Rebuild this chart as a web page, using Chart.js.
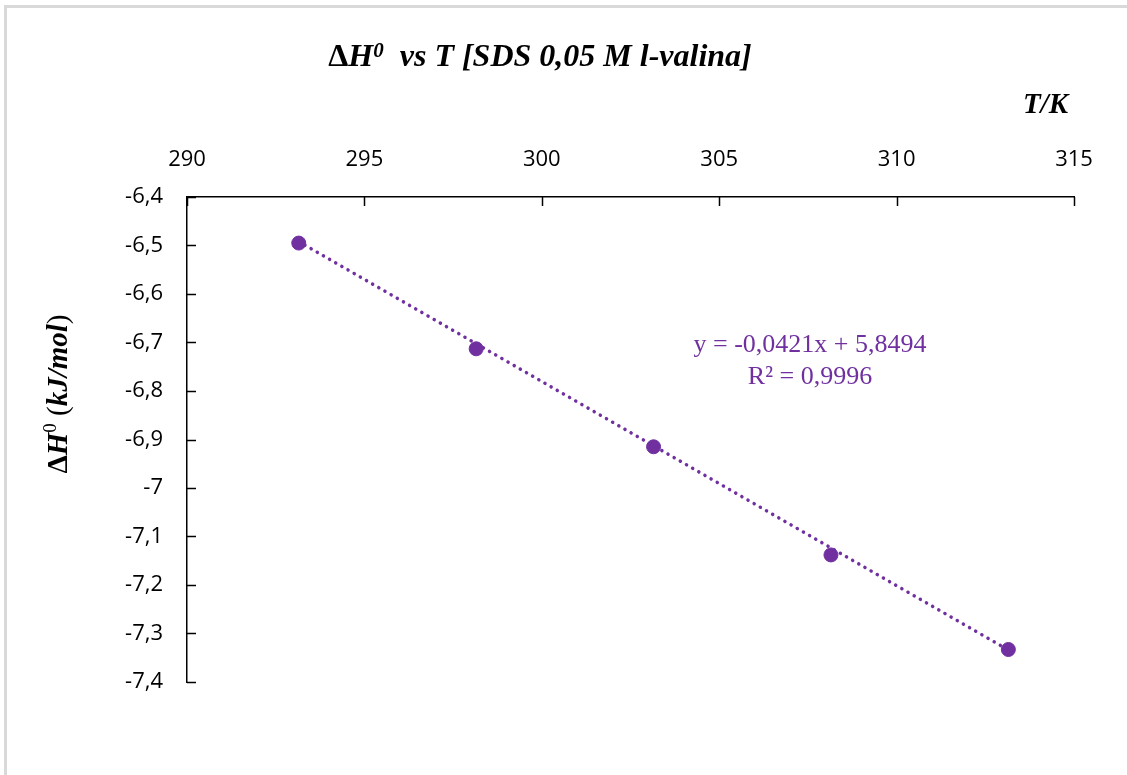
<!DOCTYPE html>
<html>
<head>
<meta charset="utf-8">
<title>ΔH0 vs T</title>
<script src="https://cdn.jsdelivr.net/npm/chart.js@4.4.1/dist/chart.umd.min.js"></script>
<style>
  html, body { margin: 0; padding: 0; background: #fff; }
  #frame {
    position: absolute; left: 4px; top: 5px; width: 1200px; height: 900px;
    border-top: 3px solid #d9d9d9; border-left: 3px solid #d9d9d9;
  }
  #wrap { position: absolute; left: 0; top: 0; width: 1127px; height: 775px; }
</style>
</head>
<body>
<div id="frame"></div>
<div id="wrap"><canvas id="chartEntalpia" width="1127" height="775"></canvas></div>
<script>
// ================================================
// Data
// ================================================
const suhuK = [293.15, 298.15, 303.15, 308.15, 313.15];
const deltaH = [-6.495, -6.713, -6.915, -7.138, -7.333];

// trendline ends
const trendX = [293.15, 313.15];
const trendY = [-6.492, -7.334];

const xTicks = [290, 295, 300, 305, 310, 315];
const yTicks = [-6.4, -6.5, -6.6, -6.7, -6.8, -6.9, -7, -7.1, -7.2, -7.3, -7.4];
const yTickLabels = ['-6,4', '-6,5', '-6,6', '-6,7', '-6,8', '-6,9', '-7', '-7,1', '-7,2', '-7,3', '-7,4'];

const trendText = ['y = -0,0421x + 5,8494', 'R² = 0,9996'];

const ungu = '#7030A0';
const tickFont = { family: 'Open Sans', size: 22 };
const serif = '"Liberation Serif", "Times New Roman", serif';

// ================================================
// Helpers
// ================================================

// draw a row of text pieces with different fonts
function drawRuns(ctx, runs, x, y) {
  let total = 0;
  runs.forEach(r => { ctx.font = r.font; total += ctx.measureText(r.text).width; });
  let cx = x - total / 2;
  runs.forEach(r => {
    ctx.font = r.font;
    ctx.fillText(r.text, cx, y + (r.dy || 0));
    cx += ctx.measureText(r.text).width;
  });
}

// inward tick marks + extra labels
const decorPlugin = {
  id: 'decor',
  afterDraw(chart) {
    const ctx = chart.ctx;
    const xs = chart.scales.x;
    const ys = chart.scales.y;
    const area = chart.chartArea;

    ctx.save();
    ctx.strokeStyle = '#000';
    ctx.lineWidth = 1.5;
    ctx.beginPath();
    xTicks.forEach(v => {
      const px = Math.round(xs.getPixelForValue(v)) + 0.5;
      ctx.moveTo(px, area.top);
      ctx.lineTo(px, area.top + 9);
    });
    yTicks.forEach(v => {
      const py = Math.round(ys.getPixelForValue(v)) + 0.5;
      ctx.moveTo(area.left, py);
      ctx.lineTo(area.left + 9, py);
    });
    ctx.stroke();

    // title
    ctx.fillStyle = '#000';
    ctx.textBaseline = 'alphabetic';
    ctx.textAlign = 'left';
    drawRuns(ctx, [
      { text: 'Δ', font: 'bold 32px ' + serif },
      { text: 'H', font: 'italic bold 32px ' + serif },
      { text: '0', font: 'italic bold 21px ' + serif, dy: -9 },
      { text: '  vs T [SDS 0,05 M l-valina]', font: 'italic bold 32px ' + serif }
    ], 540, 66);

    // x axis title
    ctx.font = 'italic bold 29px ' + serif;
    ctx.textAlign = 'right';
    ctx.fillText('T/K', 1068, 113);

    // y axis title
    ctx.save();
    ctx.translate(67, 394);
    ctx.rotate(-Math.PI / 2);
    ctx.textAlign = 'left';
    drawRuns(ctx, [
      { text: 'Δ', font: 'bold 29px ' + serif },
      { text: 'H', font: 'italic bold 29px ' + serif },
      { text: '0', font: '19px ' + serif, dy: -11 },
      { text: ' (', font: '29px ' + serif },
      { text: 'kJ/mol', font: 'italic bold 29px ' + serif },
      { text: ')', font: '29px ' + serif }
    ], 0, 0);
    ctx.restore();

    // trendline equation
    ctx.fillStyle = ungu;
    ctx.textAlign = 'center';
    ctx.font = '26px ' + serif;
    ctx.fillText(trendText[0], 810, 352);
    ctx.fillText(trendText[1], 810, 384);
    ctx.restore();
  }
};

// ================================================
// Chart
// ================================================
const ctxEntalpia = document.getElementById('chartEntalpia');
new Chart(ctxEntalpia, {
  type: 'scatter',
  data: {
    datasets: [
      {
        label: 'ΔH0',
        data: suhuK.map((t, i) => ({ x: t, y: deltaH[i] })),
        backgroundColor: ungu,
        borderColor: ungu,
        pointRadius: 7,
        pointHoverRadius: 7,
        order: 2
      },
      {
        label: 'Tren',
        type: 'line',
        data: trendX.map((t, i) => ({ x: t, y: trendY[i] })),
        borderColor: ungu,
        borderWidth: 3.5,
        borderDash: [0.1, 7],
        borderCapStyle: 'round',
        pointRadius: 0,
        fill: false,
        order: 1
      }
    ]
  },
  options: {
    responsive: false,
    animation: false,
    devicePixelRatio: 1,
    layout: { padding: { top: 120, right: 53, bottom: 93, left: 0 } },
    plugins: {
      legend: { display: false },
      tooltip: { enabled: false }
    },
    scales: {
      x: {
        type: 'linear',
        position: 'top',
        min: 290,
        max: 315,
        afterBuildTicks: scale => { scale.ticks = xTicks.map(v => ({ value: v })); },
        afterFit: scale => { scale.height = 77; },
        ticks: { font: tickFont, color: '#000', padding: 24, maxRotation: 0 },
        grid: { display: false, drawTicks: false },
        border: { display: true, color: '#000', width: 1.5 }
      },
      y: {
        type: 'linear',
        min: -7.4,
        max: -6.4,
        afterBuildTicks: scale => { scale.ticks = yTicks.map(v => ({ value: v })); },
        afterFit: scale => { scale.width = 187; },
        ticks: {
          font: tickFont,
          color: '#000',
          padding: 24,
          callback: (v, i) => yTickLabels[i]
        },
        grid: { display: false, drawTicks: false },
        border: { display: true, color: '#000', width: 1.5 }
      }
    }
  },
  plugins: [decorPlugin]
});
</script>
</body>
</html>
